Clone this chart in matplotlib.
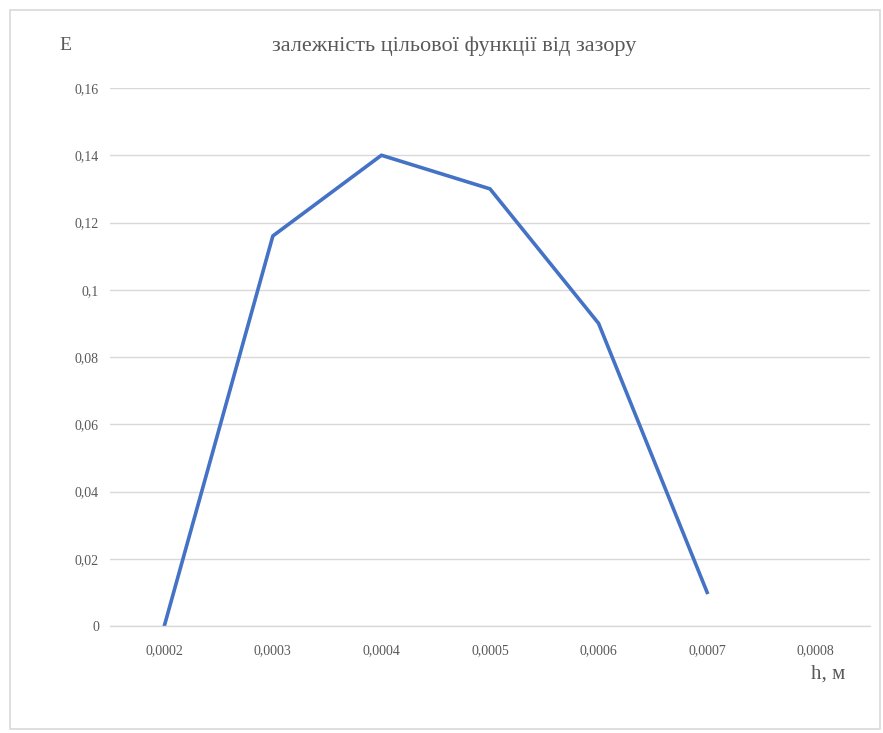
import matplotlib
matplotlib.use("Agg")
import matplotlib.pyplot as plt
from matplotlib.patches import Rectangle

# Gap values (category axis) and objective function values
categories = ["0,0002", "0,0003", "0,0004", "0,0005", "0,0006", "0,0007", "0,0008"]
values = [0.0, 0.116, 0.14, 0.13, 0.09, 0.01]
yticks = [0, 0.02, 0.04, 0.06, 0.08, 0.10, 0.12, 0.14, 0.16]
ytick_labels = ["0", "0,02", "0,04", "0,06", "0,08", "0,1", "0,12", "0,14", "0,16"]

plt.rcParams["font.family"] = ["Liberation Serif", "DejaVu Serif"]

fig = plt.figure(figsize=(8.83, 7.33), dpi=100)
fig.patch.set_facecolor("white")

# Chart area frame
fig.add_artist(Rectangle((10 / 883, 1 - 729 / 733), 870 / 883, 719 / 733,
                         transform=fig.transFigure, fill=False,
                         edgecolor="#d9d9d9", linewidth=1.2))

ax = fig.add_axes([110 / 883, 1 - 626 / 733, 760 / 883, (626 - 88) / 733])
x = list(range(len(values)))
ax.plot(x, values, color="#4472C4", linewidth=2.6, solid_joinstyle="round")

ax.set_xlim(-0.5, len(categories) - 0.5)
ax.set_ylim(0, 0.16)
ax.set_xticks(range(len(categories)))
ax.set_xticklabels(categories, fontsize=10, color="#595959")
ax.set_yticks(yticks)
ax.set_yticklabels(ytick_labels, fontsize=10, color="#595959")
ax.tick_params(axis="both", length=0)
ax.tick_params(axis="x", pad=13)
ax.tick_params(axis="y", pad=8)
ax.grid(axis="y", color="#d9d9d9", linewidth=1)
ax.set_axisbelow(True)
for s in ["top", "right", "left"]:
    ax.spines[s].set_visible(False)
ax.spines["bottom"].set_color("#d9d9d9")
ax.spines["bottom"].set_linewidth(1)

fig.text(454 / 883, 1 - 46 / 733, "залежність цільової функції від зазору",
         ha="center", va="center", fontsize=16, color="#595959")
fig.text(65 / 883, 1 - 45 / 733, "E", ha="center", va="center",
         fontsize=14, color="#595959")
fig.text(828 / 883, 1 - 674 / 733, "h, м", ha="center", va="center",
         fontsize=15, color="#595959")

fig.savefig("out.png", dpi=100, facecolor="white")
